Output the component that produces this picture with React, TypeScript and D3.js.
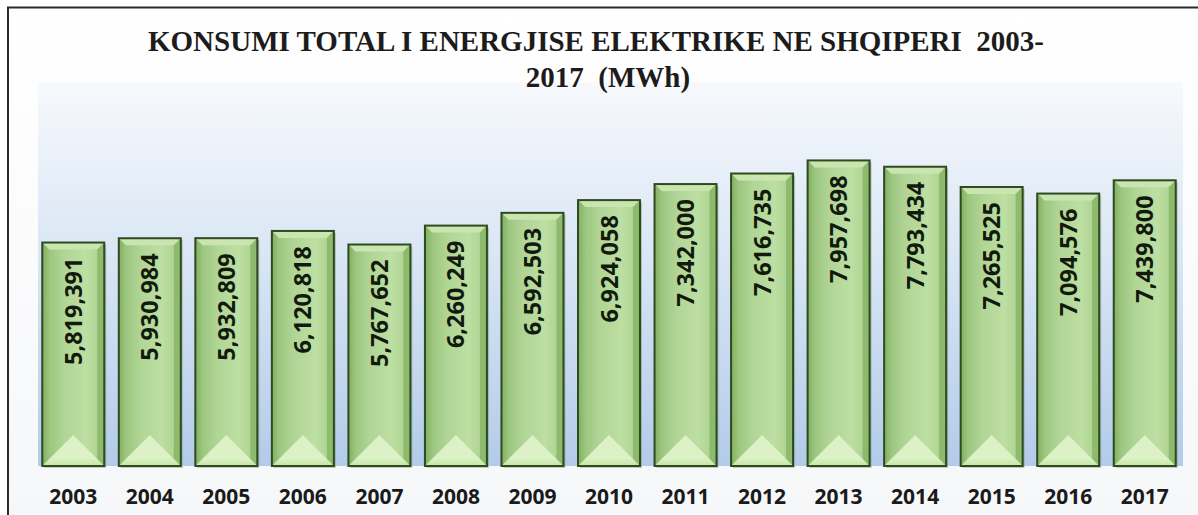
import React from "react";
import * as d3 from "d3";

const years = ["2003","2004","2005","2006","2007","2008","2009","2010","2011","2012","2013","2014","2015","2016","2017"];
const consumption = [5819391,5930984,5932809,6120818,5767652,6260249,6592503,6924058,7342000,7616735,7957698,7793434,7265525,7094576,7439800];
const titleLines = ["KONSUMI TOTAL I ENERGJISE ELEKTRIKE NE SHQIPERI  2003-", "2017  (MWh)"];
const yDomain = [0, 10000000];

const W = 1198, H = 515;
const plot = { left: 38, right: 1183, top: 82, bottom: 466 };
const titlePos = [{ x: 596, y: 51 }, { x: 608, y: 87 }];

export default function App() {
  const x = d3.scaleBand<string>().domain(years).range([35, 1183]).paddingInner(0.19).paddingOuter(0.095);
  const y = d3.scaleLinear().domain(yDomain).range([plot.bottom, plot.top]);
  const fmt = d3.format(",");
  const bw = x.bandwidth();
  const b = 7;

  return (
    <svg width={W} height={H} style={{ position: "absolute", left: 0, top: 0, background: "#fff" }}>
      <defs>
        <linearGradient id="bg" x1="0" y1="0" x2="0" y2="1">
          <stop offset="0" stopColor="#f7f9fc" />
          <stop offset="0.45" stopColor="#d9e6f5" />
          <stop offset="1" stopColor="#b3cbe9" />
        </linearGradient>
        <linearGradient id="topbg" x1="0" y1="0" x2="0" y2="1">
          <stop offset="0" stopColor="#ffffff" />
          <stop offset="1" stopColor="#f6f7f9" />
        </linearGradient>
        <linearGradient id="barBody" x1="0" y1="0" x2="1" y2="0">
          <stop offset="0" stopColor="#93bf75" />
          <stop offset="0.35" stopColor="#b0d596" />
          <stop offset="0.7" stopColor="#bddfa2" />
          <stop offset="1" stopColor="#a8cf8c" />
        </linearGradient>
        <linearGradient id="barLeft" x1="0" y1="0" x2="1" y2="0">
          <stop offset="0" stopColor="#82af63" />
          <stop offset="1" stopColor="#9bc57d" />
        </linearGradient>
        <linearGradient id="barBottom" x1="0" y1="0" x2="0" y2="1">
          <stop offset="0" stopColor="#d8f0c2" />
          <stop offset="1" stopColor="#c4e6a6" />
        </linearGradient>
      </defs>

      <rect x={8} y={7.5} width={W} height={H} fill="url(#topbg)" stroke="#2b2b2b" strokeWidth={2} />
      <rect x={plot.left} y={plot.top} width={plot.right - plot.left} height={plot.bottom - plot.top} fill="url(#bg)" />

      {titleLines.map((t, i) => (
        <text key={i} x={titlePos[i].x} y={titlePos[i].y} textAnchor="middle"
          fontFamily="'Liberation Serif', 'Times New Roman', serif" fontWeight="bold" fontSize={29}
          fill="#1c1c1c" style={{ whiteSpace: "pre" }}>
          {t}
        </text>
      ))}

      {years.map((yr, i) => {
        const x0 = x(yr)!;
        const x1 = x0 + bw;
        const y0 = y(consumption[i]);
        const y1 = y(0);
        const mid = (x0 + x1) / 2;
        return (
          <g key={yr}>
            <rect x={x0 + 2} y={y0 + 2} width={bw} height={y1 - y0} fill="#5f7f4f" opacity={0.35} />
            <rect x={x0} y={y0} width={bw} height={y1 - y0} fill="url(#barBody)" />
            <polygon points={`${x0},${y0} ${x1},${y0} ${x1 - b},${y0 + b} ${x0 + b},${y0 + b}`} fill="#c9e6b1" />
            <polygon points={`${x0},${y0} ${x0 + b},${y0 + b} ${x0 + b},${y1 - b} ${x0},${y1}`} fill="url(#barLeft)" />
            <polygon points={`${x1},${y0} ${x1 - b},${y0 + b} ${x1 - b},${y1 - b} ${x1},${y1}`} fill="#8dba6d" />
            <polygon points={`${x0},${y1} ${x1},${y1} ${x1 - b},${y1 - b} ${x0 + b},${y1 - b}`} fill="url(#barBottom)" />
            <polygon points={`${x0 + b},${y1 - b} ${mid},${y1 - b - 24} ${x1 - b},${y1 - b}`} fill="#dcf2c6" />
            <rect x={x0} y={y0} width={bw} height={y1 - y0} fill="none" stroke="#2e4a1e" strokeWidth={2} />
            <text transform={`translate(${mid + 8.5},${y0 + 15}) rotate(-90)`} textAnchor="end"
              fontFamily="'Open Sans', sans-serif" fontWeight="bold" fontSize={23.5} fill="#111a0c">
              {fmt(consumption[i])}
            </text>
            <text x={mid} y={504} textAnchor="middle"
              fontFamily="'Open Sans', sans-serif" fontWeight="bold" fontSize={21} fill="#1a1a1a">
              {yr}
            </text>
          </g>
        );
      })}
    </svg>
  );
}
